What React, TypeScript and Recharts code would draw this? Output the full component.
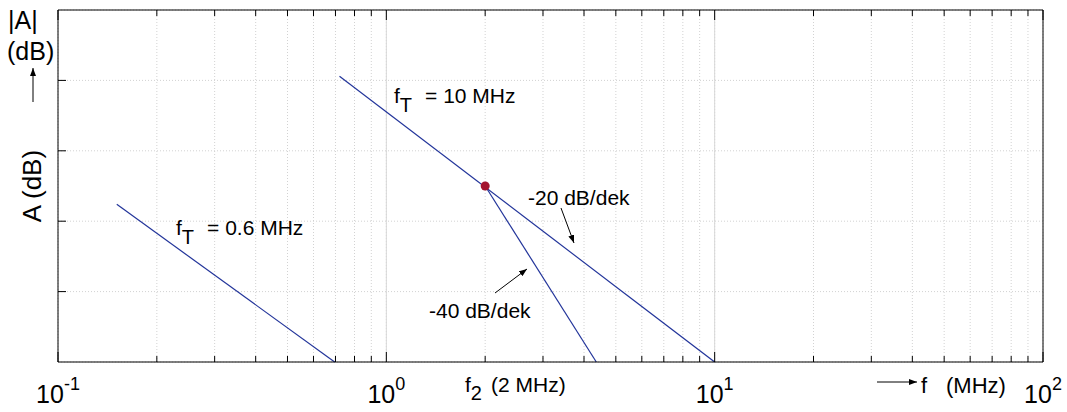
import { ComposedChart, Line, XAxis, YAxis, CartesianGrid, ReferenceLine, ReferenceDot } from "recharts"

// frequency in MHz, gain in grid units (one unit per y tick)
const ft10Freq = [0.72, 10]
const ft10Gain = [4.06, 0]
const slope40Freq = [2, 4.36]
const slope40Gain = [2.5, 0]
const ft06Freq = [0.151, 0.696]
const ft06Gain = [2.24, 0]
const poleFreq = 2
const poleGain = 2.5

const majorTicks = [0.1, 1, 10, 100]
const minorTicks = [
  0.2, 0.3, 0.4, 0.5, 0.6, 0.7, 0.8, 0.9,
  2, 3, 4, 5, 6, 7, 8, 9,
  20, 30, 40, 50, 60, 70, 80, 90,
]
const xTicks = [...majorTicks, ...minorTicks].sort((a, b) => a - b)
const yTicks = [1, 2, 3, 4]
const exponents: Record<number, string> = { 0.1: "-1", 1: "0", 10: "1", 100: "2" }

const font = "'Liberation Sans', Arial, sans-serif"
const lineColor = "#22349a"

const zip = (fs: number[], gs: number[]) => fs.map((f, i) => ({ f, a: gs[i] }))
const ft10 = zip(ft10Freq, ft10Gain)
const slope40 = zip(slope40Freq, slope40Gain)
const ft06 = zip(ft06Freq, ft06Gain)

function isMajor(v: number) {
  return majorTicks.includes(v)
}

function BottomTick(props: any) {
  const { x, y, payload } = props
  const v = payload.value
  const len = isMajor(v) ? 10 : 6
  return (
    <g>
      <line x1={x} x2={x} y1={y} y2={y - len} stroke="#000" strokeWidth={1} />
      {isMajor(v) && (
        <text x={x} y={y + 41} textAnchor="middle" fontFamily={font} fontSize={25} fill="#000">
          10
          <tspan dy={-13} fontSize={18}>{exponents[v]}</tspan>
        </text>
      )}
    </g>
  )
}

function TopTick(props: any) {
  const { x, y, payload } = props
  const len = isMajor(payload.value) ? 10 : 6
  return <line x1={x} x2={x} y1={y} y2={y + len} stroke="#000" strokeWidth={1} />
}

function LeftTick(props: any) {
  const { x, y } = props
  return <line x1={x} x2={x + 8} y1={y} y2={y} stroke="#000" strokeWidth={1} />
}

function RightTick(props: any) {
  const { x, y } = props
  return <line x1={x} x2={x - 8} y1={y} y2={y} stroke="#000" strokeWidth={1} />
}

function Arrow({ x1, y1, x2, y2 }: { x1: number; y1: number; x2: number; y2: number }) {
  return <line x1={x1} y1={y1} x2={x2} y2={y2} stroke="#000" strokeWidth={1} markerEnd="url(#head)" />
}

function FtLabel({ x, y, text }: { x: number; y: number; text: string }) {
  return (
    <text x={x} y={y} fontSize={21}>
      f<tspan dy={9} fontSize={20}>T</tspan>
      <tspan dy={-9} dx={13}>{text}</tspan>
    </text>
  )
}

export default function App() {
  return (
    <div style={{ position: "absolute", left: 0, top: 0, width: 1067, height: 412, background: "#fff" }}>
      <ComposedChart width={1067} height={412} margin={{ top: 0, right: 0, bottom: 0, left: 0 }}>
        <CartesianGrid xAxisId="bottom" yAxisId="left" stroke="#d2d2d2" strokeDasharray="1 2" />
        <XAxis
          xAxisId="bottom"
          dataKey="f"
          type="number"
          scale="log"
          domain={[0.1, 100]}
          allowDataOverflow
          ticks={xTicks}
          interval={0}
          height={50}
          tickSize={0}
          tickMargin={0}
          tickLine={false}
          axisLine={{ stroke: "#000" }}
          tick={<BottomTick />}
        />
        <XAxis
          xAxisId="top"
          orientation="top"
          dataKey="f"
          type="number"
          scale="log"
          domain={[0.1, 100]}
          allowDataOverflow
          ticks={xTicks}
          interval={0}
          height={10}
          tickSize={0}
          tickMargin={0}
          tickLine={false}
          axisLine={{ stroke: "#000" }}
          tick={<TopTick />}
        />
        <YAxis
          yAxisId="left"
          type="number"
          domain={[0, 5]}
          ticks={yTicks}
          width={58}
          tickSize={0}
          tickMargin={0}
          tickLine={false}
          axisLine={{ stroke: "#000" }}
          tick={<LeftTick />}
        />
        <YAxis
          yAxisId="right"
          orientation="right"
          type="number"
          domain={[0, 5]}
          ticks={yTicks}
          width={24}
          tickSize={0}
          tickMargin={0}
          tickLine={false}
          axisLine={{ stroke: "#000" }}
          tick={<RightTick />}
        />
        <ReferenceLine xAxisId="bottom" yAxisId="left" x={1} stroke="#d8d8d8" />
        <ReferenceLine xAxisId="bottom" yAxisId="left" x={10} stroke="#d8d8d8" />
        <Line xAxisId="bottom" yAxisId="left" data={ft10} dataKey="a" stroke={lineColor} strokeWidth={1.2} dot={false} isAnimationActive={false} />
        <Line xAxisId="bottom" yAxisId="left" data={slope40} dataKey="a" stroke={lineColor} strokeWidth={1.2} dot={false} isAnimationActive={false} />
        <Line xAxisId="bottom" yAxisId="left" data={ft06} dataKey="a" stroke={lineColor} strokeWidth={1.2} dot={false} isAnimationActive={false} />
        <ReferenceDot xAxisId="bottom" yAxisId="left" x={poleFreq} y={poleGain} r={4.5} fill="#a3142f" stroke="none" />
      </ComposedChart>

      <svg width={1067} height={412} style={{ position: "absolute", left: 0, top: 0, pointerEvents: "none" }}>
        <defs>
          <marker id="head" markerWidth="8" markerHeight="6" refX="8" refY="3" orient="auto" markerUnits="userSpaceOnUse">
            <path d="M0,0 L8,3 L0,6 Z" fill="#000" />
          </marker>
        </defs>
        <g fontFamily={font} fill="#000">
          <text x={8} y={29} fontSize={25}>|A|</text>
          <text x={7} y={60} fontSize={25}>(dB)</text>
          <Arrow x1={33} y1={102} x2={33} y2={68} />
          <text x={41} y={186} fontSize={26} textAnchor="middle" transform="rotate(-90 41 186)">A (dB)</text>

          <FtLabel x={394} y={103} text="= 10 MHz" />
          <FtLabel x={176} y={235} text="= 0.6 MHz" />
          <text x={528} y={205} fontSize={21}>-20 dB/dek</text>
          <Arrow x1={561} y1={208} x2={574} y2={243} />
          <text x={429} y={318} fontSize={21}>-40 dB/dek</text>
          <Arrow x1={495} y1={293} x2={527} y2={269} />

          <text x={465} y={392} fontSize={21}>
            f<tspan dy={8} fontSize={20}>2</tspan>
            <tspan dy={-8} dx={9}>(2 MHz)</tspan>
          </text>
          <Arrow x1={877} y1={382} x2={917} y2={382} />
          <text x={921} y={393} fontSize={22}>f</text>
          <text x={946} y={393} fontSize={22}>(MHz)</text>
        </g>
      </svg>
    </div>
  )
}
